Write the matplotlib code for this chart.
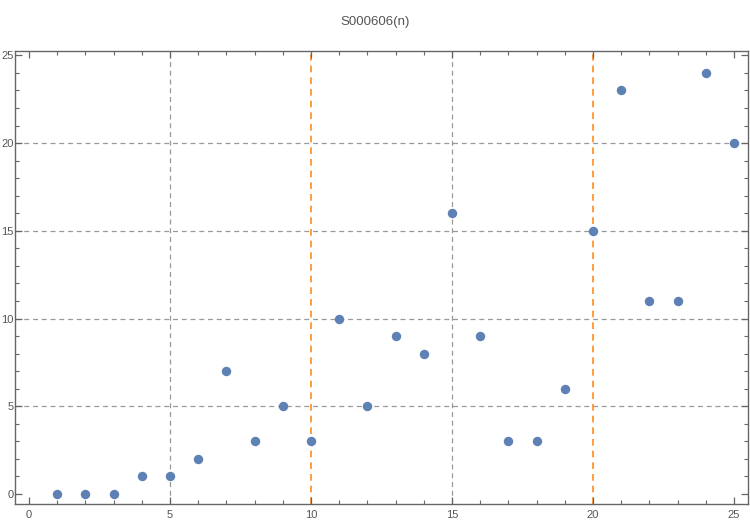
import matplotlib
matplotlib.use("Agg")
import matplotlib.pyplot as plt
from matplotlib.ticker import MultipleLocator

n = list(range(1, 26))
values = [0, 0, 0, 1, 1, 2, 7, 3, 5, 3, 10, 5, 9, 8, 16, 9, 3, 3, 6, 15, 23, 11, 11, 24, 20]
gray_x = [5, 15]
orange_x = [10, 20]
gray_y = [5, 10, 15, 20]
title = "S000606(n)"

plt.rcParams['font.family'] = ['Liberation Sans', 'DejaVu Sans']

fig = plt.figure(figsize=(7.5, 5.21), dpi=100)
ax = fig.add_axes([15/750, 1-504/521, (748-15)/750, (504-51)/521])

for x in gray_x:
    ax.axvline(x, color='#999999', lw=0.9, ls=(0, (4, 3)), zorder=1)
for y in gray_y:
    ax.axhline(y, color='#999999', lw=0.9, ls=(0, (4, 3)), zorder=1)
for x in orange_x:
    ax.axvline(x, color='#FF8C1A', lw=1.2, ls=(0, (4, 3)), zorder=1.5)

ax.plot(n, values, 'o', color='#5E81B5', markersize=6.8, markeredgewidth=0, zorder=3)

ax.set_xlim(-0.5, 25.5)
ax.set_ylim(-0.57, 25.25)

ax.xaxis.set_major_locator(MultipleLocator(5))
ax.xaxis.set_minor_locator(MultipleLocator(1))
ax.yaxis.set_major_locator(MultipleLocator(5))
ax.yaxis.set_minor_locator(MultipleLocator(1))

ax.tick_params(which='both', direction='in', top=True, right=True, color='#666666',
               labelcolor='#555555', labelsize=8)
ax.tick_params(which='major', length=5, width=0.9)
ax.tick_params(which='minor', length=3, width=0.8)
ax.tick_params(axis='x', which='both', labeltop=False, pad=4)
ax.tick_params(axis='y', which='both', labelright=False, pad=1)

for s in ax.spines.values():
    s.set_color('#666666')
    s.set_linewidth(1.0)

fig.text(0.5, 1-22/521, title, ha='center', va='center', color='#555555', fontsize=9.5)

fig.savefig('out.png', dpi=100)
